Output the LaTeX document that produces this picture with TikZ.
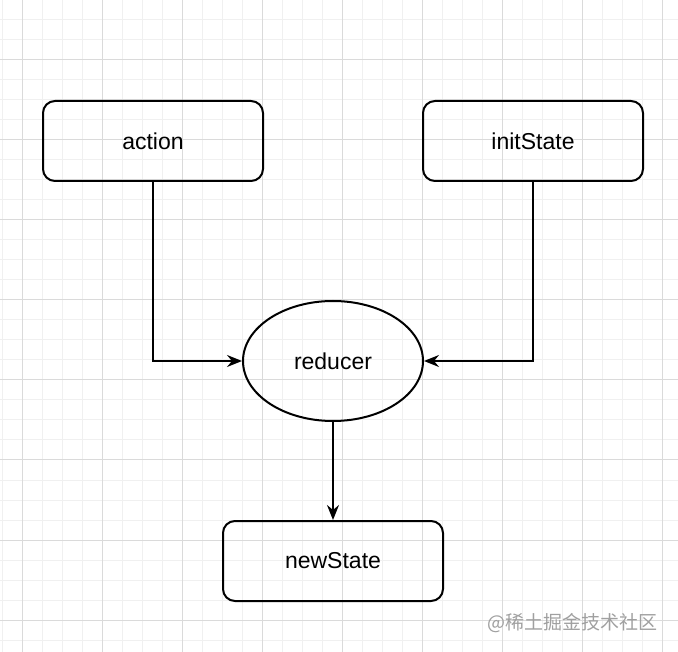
\documentclass[tikz,border=0pt]{standalone}
\usepackage{fontspec}
\setmainfont{Liberation Sans}
\newfontfamily\cjkfont{Noto Sans CJK SC}
\usetikzlibrary{arrows.meta,positioning,shapes.geometric}
\definecolor{gridminor}{HTML}{F0F0F0}
\definecolor{gridmajor}{HTML}{DADADA}
\definecolor{markgray}{HTML}{A0A0A0}
\tikzset{
  box/.style={draw,line width=2pt,rounded corners=12pt,minimum width=220pt,minimum height=80pt,inner sep=0pt,font=\fontsize{23}{26}\selectfont},
  oval/.style={draw,ellipse,line width=2pt,minimum width=180pt,minimum height=120pt,inner sep=0pt,font=\fontsize{23}{26}\selectfont},
  flow/.style={line width=2pt,-{Stealth[length=15pt,width=12pt,inset=5pt]}},
}

\begin{document}
\begin{tikzpicture}[x=1pt,y=-1pt]
  \useasboundingbox (0,0) rectangle (678,652);
  \fill[white] (0,0) rectangle (678,652);
  % grid
  \foreach \x in {2,22,...,662} \draw[gridminor,line width=1pt] (\x,0) -- (\x,652);
  \foreach \y in {0,20,...,640} \draw[gridminor,line width=1pt] (0,\y) -- (678,\y);
  \foreach \x in {22,102,...,662} \draw[gridmajor,line width=1pt] (\x,0) -- (\x,652);
  \foreach \y in {60,140,...,620} \draw[gridmajor,line width=1pt] (0,\y) -- (678,\y);

  \node[box] (action) at (153,141) {action};
  \node[box] (initState) at (533,141) {initState};
  \node[oval] (reducer) at (333,361) {reducer};
  \node[box,below=98pt of reducer] (newState) {newState};
  \draw[flow] (action.south) |- (reducer.west);
  \draw[flow] (initState.south) |- (reducer.east);
  \draw[flow] (reducer.south) -- (newState.north);

  \node[anchor=east,text=markgray,inner sep=0pt,font=\cjkfont\fontsize{19}{22}\selectfont] (mark) at (658,623) {@稀土掘金技术社区};
\end{tikzpicture}
\end{document}
